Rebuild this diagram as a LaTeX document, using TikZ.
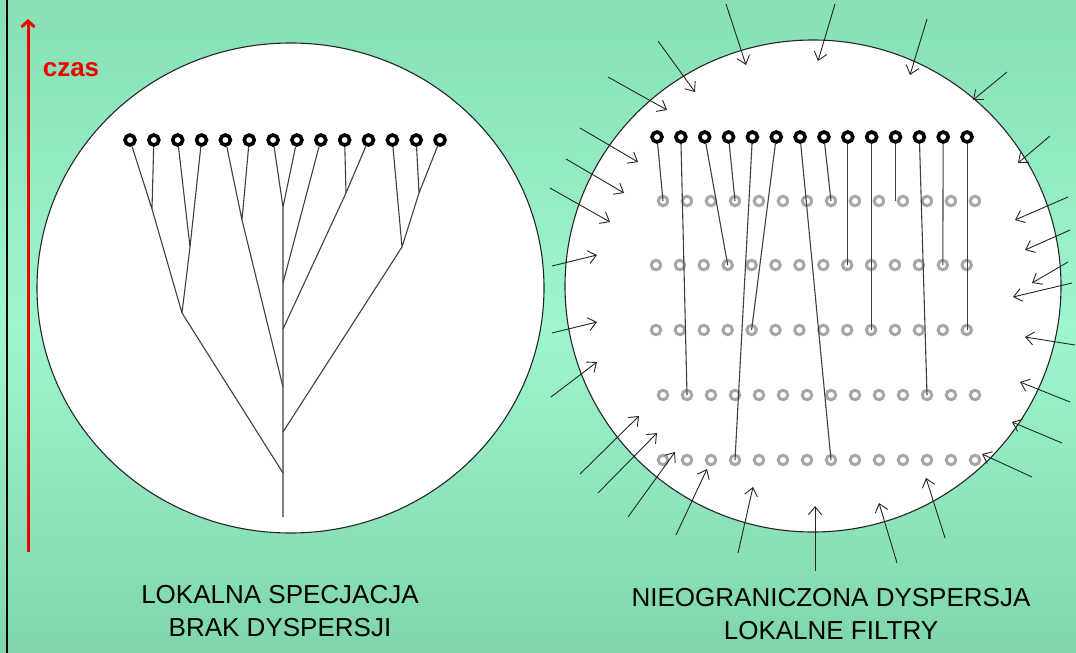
\documentclass[tikz,border=0pt]{standalone}
\usepackage{fontspec}
\setmainfont{Liberation Sans}
\usetikzlibrary{arrows.meta}

\begin{document}
\begin{tikzpicture}[x=1pt,y=-1pt]
\tikzset{TipStyle/.style = {circle, draw=black, line width=3.6pt, minimum size=10pt, inner sep=0pt},
  GhostStyle/.style = {circle, draw=black!35, line width=3pt, minimum size=9.5pt, inner sep=0pt},
  BranchStyle/.style = {draw=black!75, line width=1.1pt},
  FlowStyle/.style = {draw=black!85, line width=0.9pt, -{Straight Barb[length=8pt,width=13pt]}},
  CaptionStyle/.style = {align=center, font=\fontsize{26}{33}\selectfont}
}

    % Background and frame
    \useasboundingbox (0,0) rectangle (1076,653);
    \shade[top color={rgb,255:red,134;green,224;blue,180}, bottom color={rgb,255:red,128;green,214;blue,170},
        middle color={rgb,255:red,157;green,246;blue,206}] (0,0) rectangle (1076,653);
    \draw[line width=1.5pt] (7,0) -- (7,653);

    % Time axis
    \coordinate (tbot) at (28,552);
    \coordinate (ttop) at (28,19);
    \draw[red!95!black, line width=3pt, -{Straight Barb[length=6pt,width=13pt]}] (tbot) -- (ttop);
    \node[text=red!95!black, font=\bfseries\fontsize{26}{26}\selectfont] (czas) at (71,70) {czas};

    % Two communities
    \filldraw[fill=white, draw=black!85, line width=1.1pt] (290.5,288) ellipse [x radius=253.5, y radius=245];
    \filldraw[fill=white, draw=black!85, line width=1.1pt] (813,286) ellipse [x radius=248, y radius=246];

    % Left: local speciation tree
    \foreach \i in {1,...,14}
        \node[TipStyle] (l\i) at ({130+(\i-1)*23.85},140) {};

    \coordinate (a1) at (152,209);
    \coordinate (a2) at (190,247);
    \coordinate (a12) at (182,313);
    \coordinate (b1) at (242,220);
    \coordinate (c1) at (283,207);
    \coordinate (d1) at (346,193);
    \coordinate (e1) at (419,193);
    \coordinate (e2) at (402,247);
    \coordinate (j9) at (283,283);
    \coordinate (jd) at (283,329);
    \coordinate (jb) at (283,387);
    \coordinate (je) at (283,432);
    \coordinate (root) at (283,473);
    \coordinate (base) at (283,517);

    \draw[BranchStyle] (l1) -- (a1) (l2) -- (a1) (l3) -- (a2) (l4) -- (a2);
    \draw[BranchStyle] (a1) -- (a12) (a2) -- (a12) (a12) -- (root);
    \draw[BranchStyle] (l5) -- (b1) (l6) -- (b1) (b1) -- (jb);
    \draw[BranchStyle] (l7) -- (c1) (l8) -- (c1) (c1) -- (base);
    \draw[BranchStyle] (l9) -- (j9);
    \draw[BranchStyle] (l10) -- (d1) (l11) -- (d1) (d1) -- (jd);
    \draw[BranchStyle] (l13) -- (e1) (l14) -- (e1) (e1) -- (e2) (l12) -- (e2) (e2) -- (je);

    % Right: dispersal and local filters
    \foreach \r/\y/\x/\dx in {1/201/663/24, 2/265/656/23.9, 3/330/656/23.9, 4/395/663/24, 5/460/663/24}
        \foreach \i in {1,...,14}
            \node[GhostStyle] (g\r-\i) at ({\x+(\i-1)*\dx},\y) {};

    \foreach \i in {1,...,14}
        \node[TipStyle] (t\i) at ({657+(\i-1)*23.85},137) {};

    \foreach \t/\r/\c in {1/1/1, 2/4/2, 3/2/4, 4/1/4, 5/5/4, 6/3/5, 7/5/8, 8/1/8, 12/4/12, 13/2/13}
        \draw[BranchStyle] (t\t) -- (g\r-\c.center);
    \foreach \t/\r/\c in {9/2/9, 10/3/10, 11/1/11, 14/3/14}
        \draw[BranchStyle] (t\t) -- (t\t |- g\r-\c.center);

    % Incoming migrants
    \foreach \sx/\sy/\ex/\ey [count=\k] in {726/4/746/65, 835/4/818/61, 927/19/910/75, 1007/72/973/100,
        1050/136/1018/163, 658/41/695/92, 608/77/667/110, 580/128/638/162, 566/159/624/193,
        550/188/610/222, 552/266/597/255, 552/333/597/322, 551/397/597/362, 580/474/639/416,
        598/493/657/433, 628/517/675/452, 676/535/707/469, 738/553/753/487, 815/571/815/506,
        897/563/879/503, 945/538/926/478, 1032/477/982/454, 1062/443/1012/422, 1070/402/1020/382,
        1075/345/1025/337, 1072/283/1013/297, 1068/262/1032/283, 1070/230/1025/250, 1068/197/1015/220}
    {
        \coordinate (m\k) at (\sx,\sy);
        \coordinate (n\k) at (\ex,\ey);
        \draw[FlowStyle] (m\k) -- (n\k);
    }

    % Captions
    \node[CaptionStyle] (capL) at (280,611) {LOKALNA SPECJACJA\\BRAK DYSPERSJI};
    \node[CaptionStyle] (capR) at (831,614) {NIEOGRANICZONA DYSPERSJA\\LOKALNE FILTRY};
\end{tikzpicture}
\end{document}
